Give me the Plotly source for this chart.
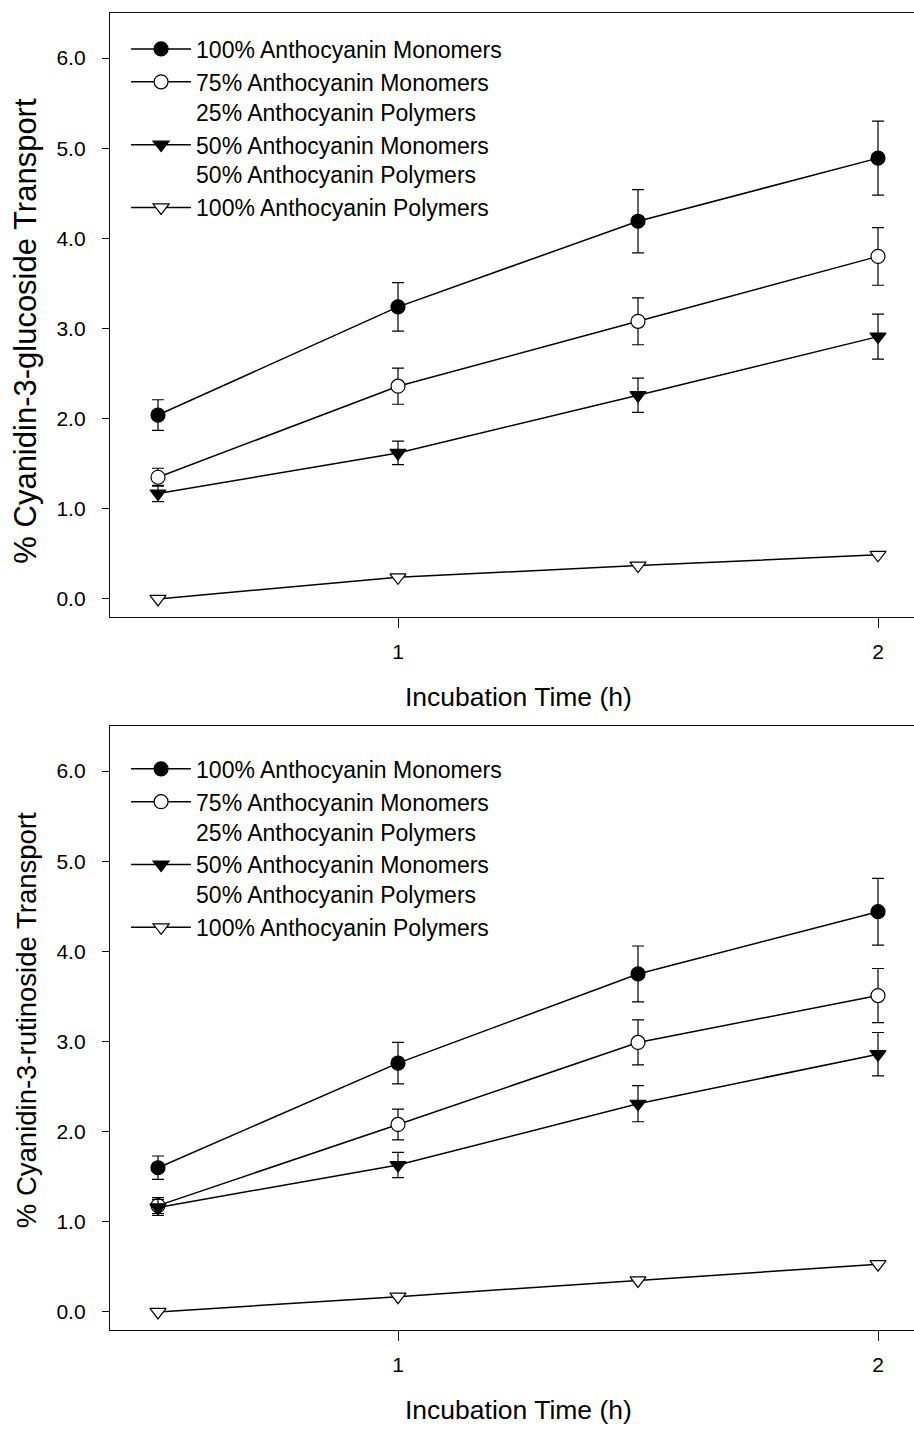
import plotly.graph_objects as go

# Sampling times (h)
times = [0.5, 1.0, 1.5, 2.0]

series_names = [
    "100% Anthocyanin Monomers",
    "75% Anthocyanin Monomers<br>25% Anthocyanin Polymers",
    "50% Anthocyanin Monomers<br>50% Anthocyanin Polymers",
    "100% Anthocyanin Polymers",
]

# Cyanidin-3-glucoside transport (%), mean and SE
c3g_mono100 = [2.04, 3.24, 4.19, 4.89]
c3g_mono100_se = [0.17, 0.27, 0.35, 0.41]
c3g_mono75 = [1.35, 2.36, 3.08, 3.80]
c3g_mono75_se = [0.10, 0.20, 0.26, 0.32]
c3g_mono50 = [1.17, 1.62, 2.26, 2.91]
c3g_mono50_se = [0.09, 0.13, 0.19, 0.25]
c3g_poly100 = [0.00, 0.24, 0.37, 0.49]

# Cyanidin-3-rutinoside transport (%), mean and SE
c3r_mono100 = [1.60, 2.76, 3.75, 4.44]
c3r_mono100_se = [0.13, 0.23, 0.31, 0.37]
c3r_mono75 = [1.18, 2.08, 2.99, 3.51]
c3r_mono75_se = [0.09, 0.17, 0.25, 0.30]
c3r_mono50 = [1.16, 1.63, 2.31, 2.86]
c3r_mono50_se = [0.09, 0.14, 0.20, 0.24]
c3r_poly100 = [0.00, 0.17, 0.35, 0.53]

y_ticks = [0, 1, 2, 3, 4, 5, 6]
x_ticks = [1, 2]
x_ticktext = ["1", "2"]

FONT = "Liberation Sans, Arial, Helvetica, sans-serif"
INK = "#000000"

styles = [
    dict(symbol="circle", size=14, color=INK, line=dict(color=INK, width=1.2)),
    dict(symbol="circle", size=14, color="white", line=dict(color=INK, width=1.2)),
    dict(symbol="triangle-down", size=14, color=INK, line=dict(color=INK, width=1.2)),
    dict(symbol="triangle-down", size=14, color="white", line=dict(color=INK, width=1.2)),
]

panels = [
    dict(xa="x", ya="y", legend="legend",
         data=[(c3g_mono100, c3g_mono100_se), (c3g_mono75, c3g_mono75_se),
               (c3g_mono50, c3g_mono50_se), (c3g_poly100, None)]),
    dict(xa="x2", ya="y2", legend="legend2",
         data=[(c3r_mono100, c3r_mono100_se), (c3r_mono75, c3r_mono75_se),
               (c3r_mono50, c3r_mono50_se), (c3r_poly100, None)]),
]

fig = go.Figure()
for p in panels:
    for name, (vals, se), mk in zip(series_names, p["data"], styles):
        err = dict(type="data", array=se, visible=True, color=INK,
                   thickness=1.2, width=6) if se is not None else dict(visible=False)
        fig.add_trace(go.Scatter(
            x=times, y=vals, name=name, mode="lines+markers",
            line=dict(color=INK, width=1.5), marker=mk, error_y=err,
            xaxis=p["xa"], yaxis=p["ya"], legend=p["legend"],
        ))

xaxis_style = dict(
    range=[0.4, 2.075], tickvals=x_ticks, ticktext=x_ticktext,
    showline=True, linecolor="#111", linewidth=1.4, mirror=True,
    ticks="outside", ticklen=10, tickwidth=1.1, tickcolor="#111",
    showgrid=False, zeroline=False, ticklabelstandoff=6,
    tickfont=dict(family=FONT, size=21, color=INK),
)
yaxis_style = dict(
    range=[-0.2, 6.5], tickvals=y_ticks, tickformat=".1f",
    showline=True, linecolor="#111", linewidth=1.4, mirror=False,
    ticks="outside", ticklen=7, tickwidth=1.1, tickcolor="#111",
    showgrid=False, zeroline=False, ticklabelstandoff=12,
    tickfont=dict(family=FONT, size=21, color=INK),
)

legend_style = dict(
    bgcolor="rgba(0,0,0,0)", borderwidth=0, valign="top",
    font=dict(family=FONT, size=23, color=INK), itemwidth=60,
    xanchor="left", yanchor="top", tracegroupgap=0,
)

fig.update_layout(
    width=914, height=1433,
    margin=dict(l=110, r=0, t=13, b=103),
    paper_bgcolor="white", plot_bgcolor="white",
    font=dict(family=FONT, color=INK),
    xaxis=dict(domain=[0, 1], anchor="y", **xaxis_style),
    yaxis=dict(domain=[0.5414, 1.0], anchor="x", **yaxis_style),
    xaxis2=dict(domain=[0, 1], anchor="y2", **xaxis_style),
    yaxis2=dict(domain=[0.0, 0.4586], anchor="x2", **yaxis_style),
    legend=dict(x=0.02, y=0.989, **legend_style),
    legend2=dict(x=0.02, y=0.4424, **legend_style),
)

# Axis titles
x_title = "Incubation Time (h)"
for xa, ya in [("x", "y"), ("x2", "y2")]:
    fig.add_annotation(text=x_title, xref=xa, x=1.25, yref=f"{ya} domain", y=-0.1325,
                       showarrow=False, xanchor="center", yanchor="middle",
                       font=dict(family=FONT, size=26.5, color=INK))

fig.add_annotation(text="% Cyanidin-3-glucoside Transport", textangle=-90,
                   xref="x domain", x=-0.1045, yref="y domain", y=0.474,
                   showarrow=False, xanchor="center", yanchor="middle",
                   font=dict(family=FONT, size=31, color=INK))
fig.add_annotation(text="% Cyanidin-3-rutinoside Transport", textangle=-90,
                   xref="x2 domain", x=-0.1045, yref="y2 domain", y=0.513,
                   showarrow=False, xanchor="center", yanchor="middle",
                   font=dict(family=FONT, size=27.5, color=INK))

fig.write_html("out.html")
